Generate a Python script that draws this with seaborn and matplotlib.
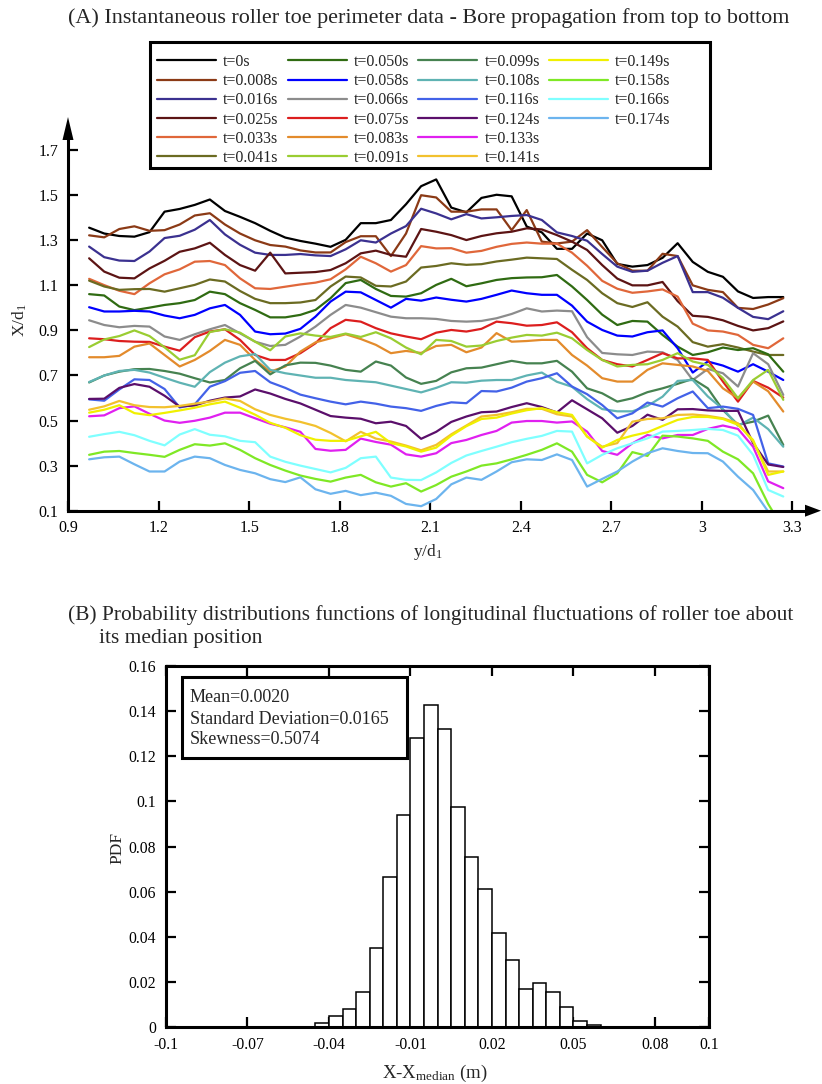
import numpy as np
import pandas as pd
import matplotlib
matplotlib.use("Agg")
import matplotlib.pyplot as plt
import seaborn as sns
from matplotlib.lines import Line2D
from matplotlib.patches import Rectangle, Polygon

# ---------------- data: panel A (roller toe perimeter) ----------------
y_d1 = [0.97, 1.02, 1.07, 1.12, 1.17, 1.22, 1.27, 1.32, 1.37, 1.42, 1.47, 1.52,
        1.57, 1.62, 1.67, 1.72, 1.77, 1.82, 1.87, 1.92, 1.97, 2.02, 2.07, 2.12,
        2.17, 2.22, 2.27, 2.32, 2.37, 2.42, 2.47, 2.52, 2.57, 2.62, 2.67, 2.72,
        2.77, 2.82, 2.87, 2.92, 2.97, 3.02, 3.07, 3.12, 3.17, 3.22, 3.27]

t_000 = [1.356, 1.330, 1.319, 1.316, 1.336, 1.427, 1.439, 1.457, 1.481, 1.430, 1.404, 1.376,
         1.342, 1.312, 1.297, 1.285, 1.271, 1.302, 1.376, 1.376, 1.390, 1.460, 1.540, 1.570,
         1.445, 1.424, 1.488, 1.502, 1.495, 1.361, 1.335, 1.262, 1.262, 1.330, 1.300, 1.195,
         1.183, 1.190, 1.222, 1.287, 1.204, 1.160, 1.138, 1.073, 1.044, 1.048, 1.048]
t_008 = [1.322, 1.313, 1.35, 1.362, 1.342, 1.345, 1.37, 1.41, 1.42, 1.37, 1.33, 1.30,
         1.279, 1.272, 1.255, 1.246, 1.246, 1.292, 1.318, 1.318, 1.23, 1.33, 1.50, 1.49,
         1.427, 1.427, 1.437, 1.437, 1.345, 1.434, 1.294, 1.286, 1.294, 1.345, 1.27, 1.198,
         1.165, 1.165, 1.24, 1.23, 1.10, 1.08, 1.07, 1.00, 0.995, 1.015, 1.043]
t_016 = [1.272, 1.225, 1.21, 1.208, 1.25, 1.31, 1.32, 1.347, 1.39, 1.326, 1.28, 1.245,
         1.235, 1.235, 1.239, 1.233, 1.23, 1.26, 1.30, 1.29, 1.33, 1.363, 1.44, 1.419,
         1.393, 1.416, 1.397, 1.402, 1.408, 1.412, 1.39, 1.335, 1.319, 1.298, 1.239, 1.183,
         1.16, 1.165, 1.20, 1.23, 1.07, 1.07, 1.045, 1.0, 0.96, 0.95, 0.985]
t_025 = [1.22, 1.161, 1.134, 1.131, 1.175, 1.209, 1.249, 1.264, 1.289, 1.235, 1.19, 1.165,
         1.245, 1.153, 1.156, 1.159, 1.168, 1.198, 1.242, 1.254, 1.235, 1.227, 1.35, 1.338,
         1.323, 1.301, 1.319, 1.331, 1.338, 1.353, 1.348, 1.323, 1.294, 1.257, 1.19, 1.13,
         1.10, 1.10, 1.115, 1.03, 0.965, 0.96, 0.945, 0.92, 0.90, 0.91, 0.94]
t_033 = [1.129, 1.101, 1.076, 1.061, 1.109, 1.149, 1.171, 1.205, 1.208, 1.19, 1.131, 1.087,
         1.084, 1.094, 1.104, 1.112, 1.127, 1.171, 1.227, 1.198, 1.161, 1.19, 1.274, 1.264,
         1.265, 1.245, 1.253, 1.271, 1.284, 1.29, 1.285, 1.285, 1.245, 1.187, 1.12, 1.085,
         1.067, 1.073, 1.082, 1.05, 0.93, 0.90, 0.895, 0.88, 0.836, 0.821, 0.865]
t_041 = [1.121, 1.095, 1.08, 1.083, 1.084, 1.072, 1.087, 1.102, 1.126, 1.117, 1.075, 1.04,
         1.021, 1.021, 1.024, 1.035, 1.095, 1.139, 1.135, 1.098, 1.095, 1.117, 1.179, 1.186,
         1.198, 1.191, 1.194, 1.206, 1.214, 1.223, 1.22, 1.217, 1.169, 1.124, 1.065, 1.021,
         1.004, 1.025, 0.961, 0.917, 0.848, 0.828, 0.839, 0.824, 0.806, 0.791, 0.791]
t_050 = [1.061, 1.055, 1.006, 0.99, 1.001, 1.013, 1.021, 1.035, 1.072, 1.061, 1.021, 0.991,
         0.958, 0.958, 0.969, 0.991, 1.043, 1.11, 1.124, 1.084, 1.053, 1.05, 1.065, 1.102,
         1.129, 1.096, 1.109, 1.124, 1.132, 1.135, 1.136, 1.146, 1.095, 1.035, 0.97, 0.924,
         0.942, 0.939, 0.88, 0.828, 0.791, 0.803, 0.824, 0.813, 0.821, 0.794, 0.717]
t_058 = [1.003, 0.984, 0.984, 0.987, 0.984, 0.966, 0.954, 0.969, 0.998, 1.013, 0.969, 0.895,
         0.883, 0.886, 0.907, 0.961, 1.028, 1.072, 1.069, 1.035, 1.001, 1.04, 1.032, 1.046,
         1.036, 1.028, 1.04, 1.058, 1.077, 1.065, 1.058, 1.058, 1.01, 0.939, 0.902, 0.877,
         0.873, 0.892, 0.9, 0.821, 0.713, 0.762, 0.744, 0.717, 0.75, 0.717, 0.68]
t_066 = [0.945, 0.924, 0.914, 0.92, 0.917, 0.873, 0.858, 0.883, 0.905, 0.924, 0.887, 0.85,
         0.831, 0.836, 0.873, 0.917, 0.969, 1.013, 1.001, 0.981, 0.961, 0.954, 0.954, 0.951,
         0.942, 0.939, 0.942, 0.954, 0.973, 0.998, 0.984, 0.988, 0.985, 0.87, 0.80, 0.794,
         0.791, 0.806, 0.803, 0.769, 0.68, 0.729, 0.71, 0.651, 0.799, 0.75, 0.614]
t_075 = [0.865, 0.861, 0.853, 0.85, 0.849, 0.828, 0.81, 0.87, 0.895, 0.905, 0.858, 0.791,
         0.769, 0.769, 0.799, 0.843, 0.91, 0.947, 0.939, 0.91, 0.887, 0.873, 0.861, 0.89,
         0.902, 0.895, 0.907, 0.939, 0.932, 0.921, 0.924, 0.936, 0.892, 0.821, 0.769, 0.75,
         0.74, 0.769, 0.799, 0.776, 0.776, 0.769, 0.673, 0.584, 0.676, 0.646, 0.602]
t_083 = [0.781, 0.781, 0.787, 0.828, 0.842, 0.791, 0.74, 0.769, 0.809, 0.858, 0.836, 0.769,
         0.717, 0.74, 0.806, 0.847, 0.865, 0.883, 0.862, 0.836, 0.799, 0.809, 0.8, 0.831,
         0.836, 0.803, 0.824, 0.888, 0.85, 0.853, 0.858, 0.858, 0.791, 0.744, 0.688, 0.673,
         0.673, 0.725, 0.754, 0.747, 0.74, 0.72, 0.643, 0.599, 0.673, 0.63, 0.54]
t_091 = [0.826, 0.86, 0.875, 0.9, 0.875, 0.825, 0.77, 0.79, 0.893, 0.905, 0.89, 0.85,
         0.812, 0.873, 0.887, 0.877, 0.871, 0.886, 0.871, 0.892, 0.865, 0.824, 0.794, 0.858,
         0.853, 0.828, 0.833, 0.853, 0.868, 0.88, 0.877, 0.89, 0.865, 0.813, 0.769, 0.74,
         0.747, 0.75, 0.769, 0.799, 0.762, 0.747, 0.688, 0.599, 0.68, 0.725, 0.592]
t_099 = [0.669, 0.7, 0.717, 0.728, 0.729, 0.72, 0.708, 0.688, 0.669, 0.68, 0.732, 0.765,
         0.705, 0.745, 0.757, 0.756, 0.744, 0.725, 0.717, 0.762, 0.744, 0.691, 0.663, 0.676,
         0.714, 0.732, 0.735, 0.75, 0.765, 0.754, 0.754, 0.765, 0.717, 0.643, 0.621, 0.584,
         0.599, 0.626, 0.643, 0.663, 0.685, 0.643, 0.547, 0.481, 0.495, 0.522, 0.392]
t_108 = [0.671, 0.70, 0.72, 0.725, 0.713, 0.69, 0.668, 0.65, 0.715, 0.757, 0.785, 0.795,
         0.725, 0.71, 0.70, 0.69, 0.69, 0.68, 0.675, 0.67, 0.655, 0.64, 0.625, 0.645,
         0.67, 0.668, 0.677, 0.68, 0.68, 0.70, 0.713, 0.672, 0.65, 0.595, 0.551, 0.541,
         0.541, 0.565, 0.606, 0.676, 0.68, 0.607, 0.551, 0.477, 0.513, 0.462, 0.384]
t_116 = [0.594, 0.588, 0.638, 0.683, 0.68, 0.64, 0.558, 0.572, 0.65, 0.675, 0.712, 0.72,
         0.67, 0.645, 0.615, 0.599, 0.584, 0.572, 0.584, 0.575, 0.562, 0.555, 0.543, 0.565,
         0.581, 0.577, 0.631, 0.629, 0.646, 0.673, 0.688, 0.71, 0.651, 0.617, 0.569, 0.51,
         0.532, 0.58, 0.562, 0.599, 0.629, 0.555, 0.562, 0.552, 0.525, 0.31, 0.296]
t_124 = [0.596, 0.597, 0.645, 0.662, 0.65, 0.61, 0.562, 0.567, 0.588, 0.602, 0.607, 0.638,
         0.62, 0.596, 0.576, 0.548, 0.52, 0.513, 0.508, 0.488, 0.495, 0.476, 0.419, 0.45,
         0.494, 0.518, 0.537, 0.54, 0.56, 0.577, 0.56, 0.536, 0.59, 0.55, 0.51, 0.446,
         0.476, 0.526, 0.503, 0.55, 0.551, 0.545, 0.543, 0.543, 0.40, 0.305, 0.294]
t_133 = [0.519, 0.523, 0.555, 0.563, 0.53, 0.50, 0.49, 0.499, 0.513, 0.535, 0.535, 0.51,
         0.486, 0.47, 0.45, 0.374, 0.366, 0.37, 0.42, 0.405, 0.393, 0.35, 0.34, 0.355,
         0.40, 0.414, 0.436, 0.454, 0.491, 0.498, 0.498, 0.491, 0.496, 0.451, 0.365, 0.348,
         0.399, 0.436, 0.421, 0.436, 0.436, 0.463, 0.478, 0.463, 0.384, 0.23, 0.20]
t_141 = [0.548, 0.563, 0.587, 0.568, 0.56, 0.559, 0.565, 0.575, 0.584, 0.598, 0.587, 0.55,
         0.525, 0.508, 0.494, 0.476, 0.445, 0.408, 0.45, 0.42, 0.407, 0.389, 0.368, 0.392,
         0.439, 0.478, 0.518, 0.525, 0.537, 0.552, 0.552, 0.528, 0.518, 0.429, 0.384, 0.40,
         0.495, 0.507, 0.51, 0.525, 0.527, 0.521, 0.51, 0.488, 0.407, 0.274, 0.274]
t_149 = [0.535, 0.548, 0.568, 0.533, 0.524, 0.534, 0.545, 0.557, 0.572, 0.584, 0.557, 0.526,
         0.49, 0.468, 0.435, 0.415, 0.41, 0.41, 0.43, 0.45, 0.40, 0.385, 0.362, 0.38,
         0.433, 0.475, 0.507, 0.513, 0.531, 0.546, 0.555, 0.537, 0.525, 0.429, 0.38, 0.414,
         0.433, 0.448, 0.476, 0.503, 0.516, 0.516, 0.507, 0.481, 0.414, 0.259, 0.274]
t_158 = [0.348, 0.362, 0.365, 0.356, 0.348, 0.339, 0.37, 0.395, 0.389, 0.399, 0.37, 0.333,
         0.303, 0.278, 0.256, 0.241, 0.229, 0.247, 0.259, 0.226, 0.207, 0.222, 0.185, 0.214,
         0.251, 0.274, 0.3, 0.31, 0.328, 0.348, 0.37, 0.399, 0.362, 0.259, 0.226, 0.266,
         0.36, 0.343, 0.433, 0.429, 0.421, 0.41, 0.362, 0.328, 0.266, 0.13, 0.02]
t_166 = [0.428, 0.44, 0.45, 0.435, 0.41, 0.39, 0.438, 0.462, 0.437, 0.43, 0.41, 0.404,
         0.34, 0.317, 0.30, 0.285, 0.27, 0.29, 0.333, 0.34, 0.247, 0.237, 0.236, 0.27,
         0.312, 0.345, 0.365, 0.384, 0.404, 0.419, 0.432, 0.454, 0.451, 0.31, 0.348, 0.377,
         0.399, 0.421, 0.451, 0.454, 0.458, 0.463, 0.458, 0.433, 0.348, 0.192, 0.163]
t_174 = [0.328, 0.337, 0.34, 0.306, 0.274, 0.274, 0.318, 0.34, 0.333, 0.303, 0.281, 0.266,
         0.24, 0.227, 0.248, 0.195, 0.175, 0.188, 0.169, 0.18, 0.166, 0.13, 0.12, 0.152,
         0.217, 0.247, 0.237, 0.274, 0.315, 0.328, 0.325, 0.35, 0.325, 0.207, 0.241, 0.274,
         0.318, 0.355, 0.377, 0.365, 0.356, 0.355, 0.318, 0.251, 0.192, 0.096, 0.0]

time_labels = ["t=0s", "t=0.008s", "t=0.016s", "t=0.025s", "t=0.033s", "t=0.041s",
               "t=0.050s", "t=0.058s", "t=0.066s", "t=0.075s", "t=0.083s", "t=0.091s",
               "t=0.099s", "t=0.108s", "t=0.116s", "t=0.124s", "t=0.133s", "t=0.141s",
               "t=0.149s", "t=0.158s", "t=0.166s", "t=0.174s"]
series = [t_000, t_008, t_016, t_025, t_033, t_041, t_050, t_058, t_066, t_075, t_083,
          t_091, t_099, t_108, t_116, t_124, t_133, t_141, t_149, t_158, t_166, t_174]
line_colors = ["#000000", "#8B3A16", "#3B3190", "#5C1414", "#E0673A", "#6B6B22",
               "#2F6B12", "#0000FF", "#8C8C8C", "#DC1E1E", "#E38B2C", "#9ACD32",
               "#468250", "#5FB3B3", "#4362E8", "#5B0F6B", "#E020F0", "#F2C12E",
               "#F0F000", "#7FE825", "#7FFFFF", "#6CB4EE"]

x_ticks_a = [0.9, 1.2, 1.5, 1.8, 2.1, 2.4, 2.7, 3.0, 3.3]
x_ticklabels_a = ["0.9", "1.2", "1.5", "1.8", "2.1", "2.4", "2.7", "3", "3.3"]
y_ticks_a = [0.1, 0.3, 0.5, 0.7, 0.9, 1.1, 1.3, 1.5, 1.7]
y_ticklabels_a = ["0.1", "0.3", "0.5", "0.7", "0.9", "1.1", "1.3", "1.5", "1.7"]

# ---------------- data: panel B (PDF histogram) ----------------
pdf_edges = [-0.045, -0.040, -0.035, -0.030, -0.025, -0.020, -0.015, -0.010, -0.005,
             0.000, 0.005, 0.010, 0.015, 0.020, 0.025, 0.030, 0.035, 0.040, 0.045,
             0.050, 0.055, 0.060]
pdf_values = [0.0018, 0.0050, 0.0080, 0.0155, 0.0351, 0.0664, 0.0939, 0.1280, 0.1426,
              0.1320, 0.0974, 0.0753, 0.0614, 0.0416, 0.0298, 0.0171, 0.0198, 0.0156,
              0.0091, 0.0028, 0.0010]
x_ticks_b = [-0.1, -0.07, -0.04, -0.01, 0.02, 0.05, 0.08, 0.1]
x_ticklabels_b = ["-0.1", "-0.07", "-0.04", "-0.01", "0.02", "0.05", "0.08", "0.1"]
y_ticks_b = [0, 0.02, 0.04, 0.06, 0.08, 0.10, 0.12, 0.14, 0.16]
y_ticklabels_b = ["0", "0.02", "0.04", "0.06", "0.08", "0.1", "0.12", "0.14", "0.16"]
stats_lines = ["Mean=0.0020", "Standard Deviation=0.0165", "Skewness=0.5074"]

# ---------------- styling ----------------
sns.set_theme(style="white")
plt.rcParams["font.family"] = ["Liberation Serif", "DejaVu Serif"]
plt.rcParams["mathtext.fontset"] = "custom"
plt.rcParams["mathtext.rm"] = "Liberation Serif"
plt.rcParams["mathtext.it"] = "Liberation Serif:italic"

W, H = 822, 1084
fig = plt.figure(figsize=(W / 100, H / 100), dpi=100)
fig.patch.set_facecolor("white")


def fx(px):
    return px / W


def fy(py):
    return 1 - py / H


# ---------------- panel A ----------------
axL, axR, axT, axB = 68, 805, 140, 510.7
ax1 = fig.add_axes([fx(axL), fy(axB), fx(axR) - fx(axL), fy(axT) - fy(axB)])
rows = []
for lab, vals in zip(time_labels, series):
    for xv, yv in zip(y_d1, vals):
        rows.append((xv, yv, lab))
df = pd.DataFrame(rows, columns=["y_d1", "X_d1", "time"])
palette = dict(zip(time_labels, line_colors))
sns.lineplot(data=df, x="y_d1", y="X_d1", hue="time", hue_order=time_labels,
             palette=palette, estimator=None, sort=False, linewidth=1.6,
             legend=False, ax=ax1)
ax1.set_xlim(0.9, 3.342)
ax1.set_ylim(0.1, 1.745)
ax1.set_xlabel("")
ax1.set_ylabel("")
ax1.set_xticks(x_ticks_a)
ax1.set_xticklabels(x_ticklabels_a)
ax1.set_yticks(y_ticks_a)
ax1.set_yticklabels(y_ticklabels_a)
for s in ["top", "right"]:
    ax1.spines[s].set_visible(False)
for s in ["left", "bottom"]:
    ax1.spines[s].set_linewidth(2.2)
    ax1.spines[s].set_color("black")
ax1.tick_params(direction="in", length=7.5, width=1.6, colors="black",
                labelsize=11.5, bottom=True, left=True, pad=7)
ax1.set_facecolor("white")

# arrow heads on the axes
fig.add_artist(Polygon([[fx(62.5), fy(axT)], [fx(73.5), fy(axT)], [fx(68), fy(117)]],
                       closed=True, transform=fig.transFigure, color="black", lw=0))
fig.add_artist(Polygon([[fx(axR), fy(axB - 6)], [fx(axR), fy(axB + 6)], [fx(821), fy(axB)]],
                       closed=True, transform=fig.transFigure, color="black", lw=0))

fig.text(fx(20), fy(320), r"X/d$_\mathrm{1}$", rotation=90, ha="center", va="center",
         fontsize=12.5)
fig.text(fx(428), fy(552), r"y/d$_\mathrm{1}$", ha="center", va="center", fontsize=12.5)
fig.text(fx(68), fy(18), "(A) Instantaneous roller toe perimeter data - Bore propagation from top to bottom",
         ha="left", va="center", fontsize=15.9)

# legend
handles = [Line2D([], [], color=c, lw=1.6) for c in line_colors]
labels = list(time_labels)
handles += [Line2D([], [], color="none"), Line2D([], [], color="none")]
labels += ["", ""]
fig.legend(handles, labels, ncol=4, loc="upper left",
           bbox_to_anchor=(fx(157), fy(54)), frameon=False, fontsize=11.5,
           handlelength=3.7, handletextpad=0.45, columnspacing=0.55,
           labelspacing=0.2, borderaxespad=0, borderpad=0)
fig.add_artist(Rectangle((fx(150), fy(168)), fx(710) - fx(150), fy(42) - fy(168),
                         transform=fig.transFigure, fill=False, lw=2.2, ec="black"))

# ---------------- panel B ----------------
bL, bR, bT, bB = 166, 709.3, 666, 1027.3
ax2 = fig.add_axes([fx(bL), fy(bB), fx(bR) - fx(bL), fy(bT) - fy(bB)])
centers = [(a + b) / 2 for a, b in zip(pdf_edges[:-1], pdf_edges[1:])]
sns.histplot(x=centers, weights=pdf_values, bins=pdf_edges, stat="count",
             color="white", edgecolor="black", linewidth=1.1, alpha=1, ax=ax2)
ax2.set_xlim(-0.1, 0.1)
ax2.set_ylim(0, 0.16)
ax2.set_xlabel("")
ax2.set_ylabel("")
ax2.set_xticks(x_ticks_b)
ax2.set_xticklabels(x_ticklabels_b)
ax2.set_yticks(y_ticks_b)
ax2.set_yticklabels(y_ticklabels_b)
for s in ax2.spines.values():
    s.set_visible(True)
    s.set_linewidth(2.2)
    s.set_color("black")
ax2.tick_params(direction="in", length=7.5, width=1.6, colors="black",
                labelsize=11.3, bottom=True, left=True, top=True, right=True, pad=7)
ax2.set_facecolor("white")

fig.add_artist(Rectangle((fx(181.7), fy(758.3)), fx(406.7) - fx(181.7), fy(677.3) - fy(758.3),
                         transform=fig.transFigure, fill=True, fc="white", lw=2.2, ec="black"))
for txt, yy in zip(stats_lines, [698, 719, 739]):
    fig.text(fx(190), fy(yy), txt, ha="left", va="center", fontsize=13)

fig.text(fx(68), fy(615), "(B) Probability distributions functions of longitudinal fluctuations of roller toe about",
         ha="left", va="center", fontsize=15.4)
fig.text(fx(99), fy(639), "its median position", ha="left", va="center", fontsize=15.4)
fig.text(fx(117), fy(848), "PDF", rotation=90, ha="center", va="center", fontsize=12.5)
fig.text(fx(435), fy(1073), r"X-X$_\mathrm{median}$ (m)", ha="center", va="center", fontsize=13.5)

fig.savefig("out.png", dpi=100, facecolor="white")
